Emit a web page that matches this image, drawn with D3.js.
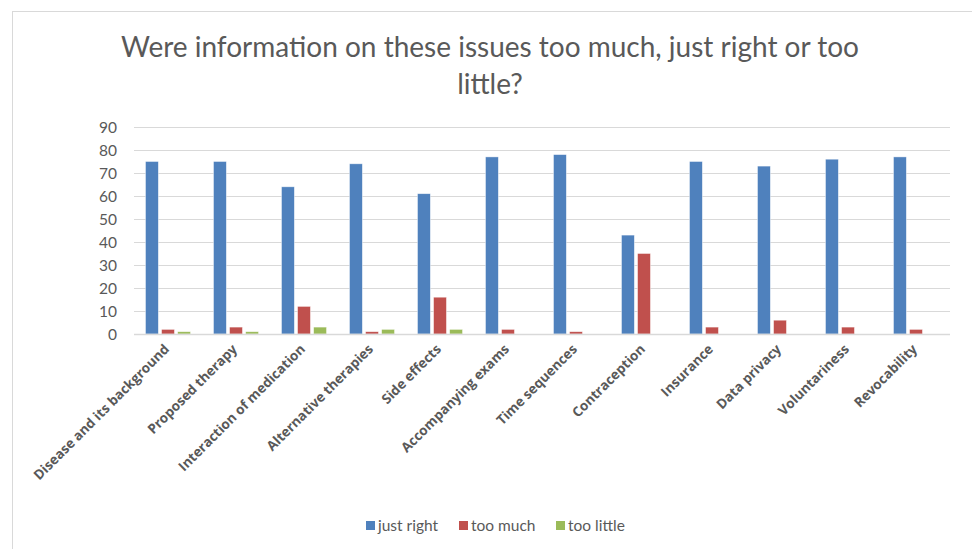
<!DOCTYPE html>
<html><head><meta charset="utf-8">
<script src="https://cdn.jsdelivr.net/npm/d3@7"></script>
<style>body{margin:0;background:#fff}svg{display:block}text{font-family:Lato,"Open Sans",sans-serif}</style>
</head><body>
<svg id="c" width="972" height="549"></svg>
<script>
const categories = ["Disease and its background","Proposed therapy","Interaction of medication","Alternative therapies","Side effects","Accompanying exams","Time sequences","Contraception","Insurance","Data privacy","Voluntariness","Revocability"];
const seriesNames = ["just right","too much","too little"];
const justRight = [75,75,64,74,61,77,78,43,75,73,76,77];
const tooMuch = [2,3,12,1,16,2,1,35,3,6,3,2];
const tooLittle = [1,1,3,2,2,0,0,0,0,0,0,0];
const yTicks = [0,10,20,30,40,50,60,70,80,90];
const colors = ["#4F81BD","#C0504D","#9BBB59"];
const title = ["Were information on these issues too much, just right or too","little?"];

const svg = d3.select("#c");
const series = [justRight, tooMuch, tooLittle];
// frame
svg.append("rect").attr("x",12.5).attr("y",11.5).attr("width",1000).attr("height",600)
  .attr("fill","none").attr("stroke","#d9d9d9").attr("stroke-width",1);

const x = d3.scaleBand().domain(categories).range([134,950]);
const y = d3.scaleLinear().domain([0,90]).range([334,127]);
const xs = d3.scaleBand().domain(seriesNames).range([0,45]).paddingInner(0.2);
const off = x.bandwidth()/2 - 22.5;

const g = svg.append("g");
// grid
g.selectAll("line.grid").data(yTicks).join("line")
  .attr("x1",134).attr("x2",950).attr("y1",d=>Math.round(y(d))+0.5).attr("y2",d=>Math.round(y(d))+0.5)
  .attr("stroke","#d9d9d9").attr("stroke-width",1);
// y axis labels
const yAxis = d3.axisLeft(y).tickValues(yTicks).tickSize(0).tickPadding(0);
const ya = svg.append("g").attr("transform","translate(117,0)").call(yAxis);
ya.select(".domain").remove();
ya.selectAll("text").attr("font-size",15.5).attr("fill","#595959").style("font-family","Lato,'Open Sans',sans-serif").attr("dy","0.36em");

// bars
series.forEach((vals,si)=>{
  g.selectAll("rect.s"+si).data(vals).join("rect")
    .attr("x",(d,i)=>x(categories[i])+off+xs(seriesNames[si]))
    .attr("width",xs.bandwidth())
    .attr("y",d=>y(d)).attr("height",d=>y(0)-y(d))
    .attr("fill",colors[si]).attr("stroke","#fff").attr("stroke-opacity",0.6).attr("stroke-width",0.7);
});
// baseline
g.append("line").attr("x1",134).attr("x2",950).attr("y1",334.5).attr("y2",334.5).attr("stroke","#d9d9d9").attr("stroke-width",1.3);

// x labels
svg.selectAll("text.xl").data(categories).join("text")
  .attr("class","xl")
  .attr("transform",d=>`translate(${x(d)+x.bandwidth()/2+2},${350}) rotate(-45)`)
  .attr("text-anchor","end").attr("font-size",13.5).attr("fill","#595959")
  .style("font-family","'Open Sans',sans-serif").style("font-weight","700")
  .text(d=>d);

// title
svg.selectAll("text.t").data(title).join("text").attr("class","t")
  .attr("x",490).attr("y",(d,i)=>57+i*37).attr("text-anchor","middle")
  .attr("font-size",28).attr("fill","#595959").text(d=>d);

// legend
const lx = [366,459,556];
const lg = svg.selectAll("g.lg").data(seriesNames).join("g").attr("class","lg")
  .attr("transform",(d,i)=>`translate(${lx[i]},521)`);
lg.append("rect").attr("width",9).attr("height",9).attr("fill",(d,i)=>colors[i]);
lg.append("text").attr("x",12).attr("y",9.5).attr("font-size",15.5).attr("fill","#595959").text(d=>d);
</script>
</body></html>
